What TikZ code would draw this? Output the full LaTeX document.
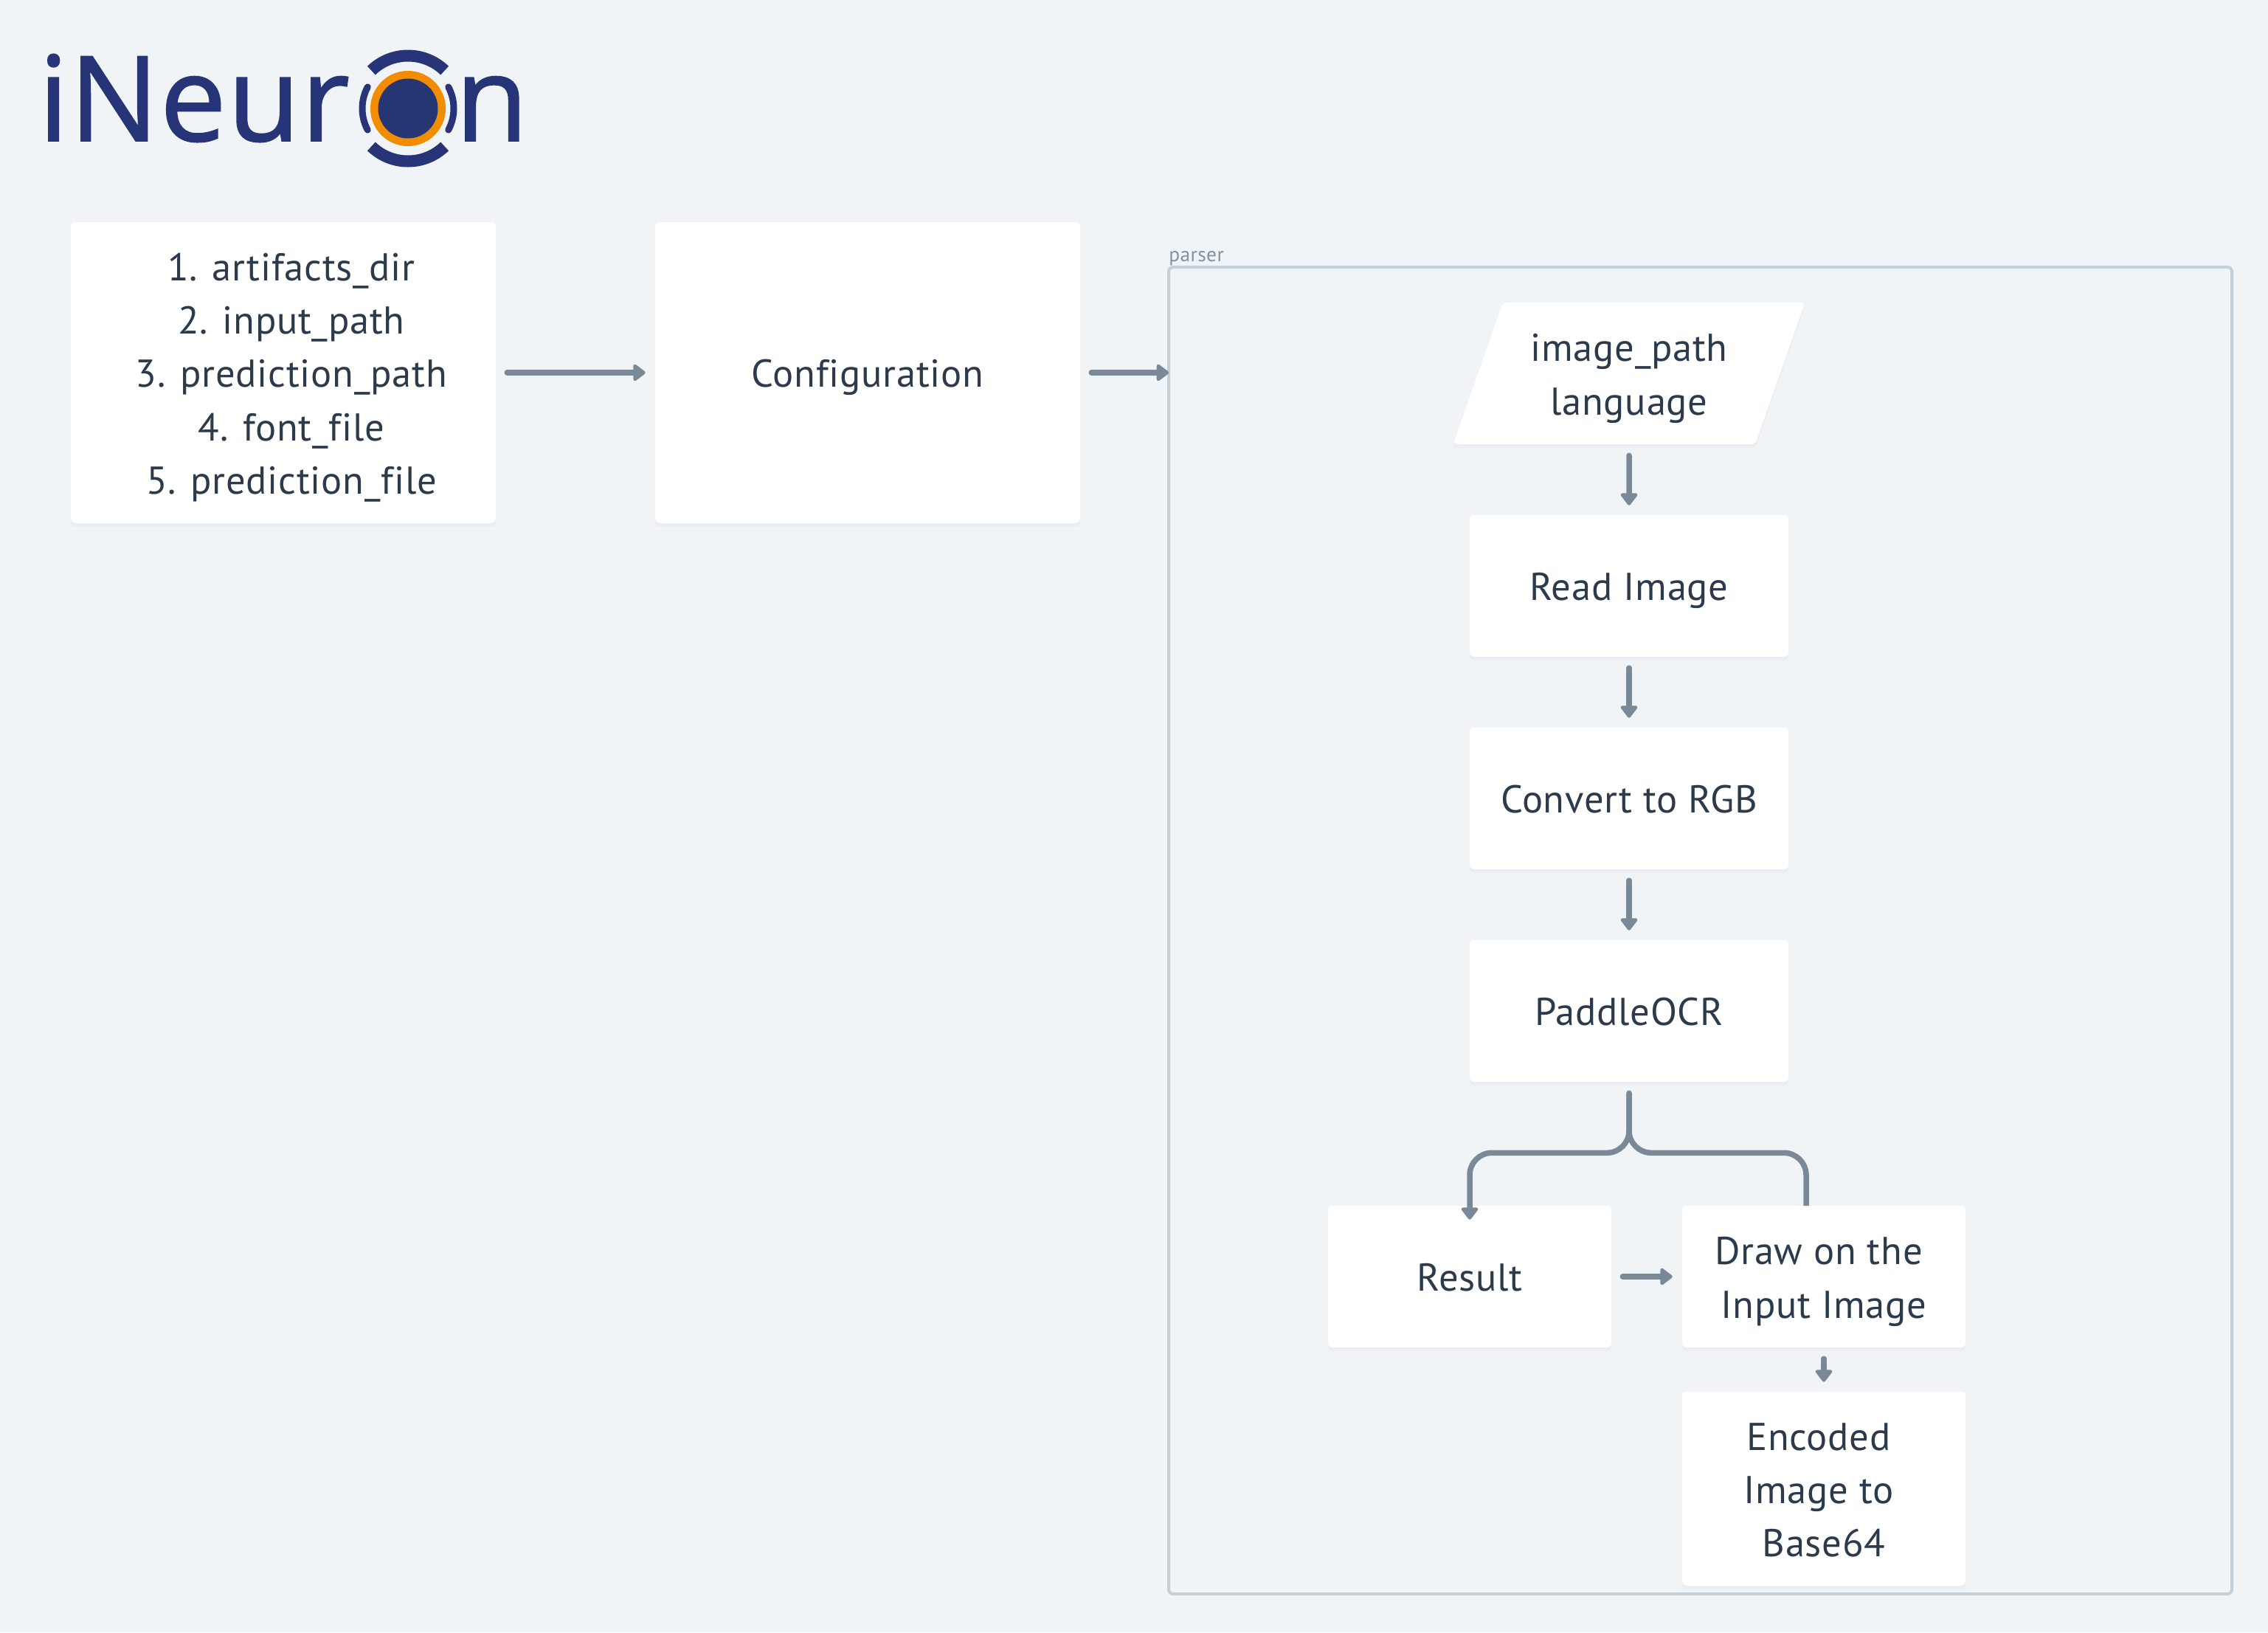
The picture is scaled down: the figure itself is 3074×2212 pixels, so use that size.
\documentclass[tikz,border=0pt]{standalone}
\usepackage{fontspec}
\setmainfont{PT Sans}[LetterSpace=1.5,Ligatures=NoCommon]
\newfontfamily\logofont{Open Sans}[LetterSpace=1,FakeBold=1.2,Ligatures=NoCommon]
\usetikzlibrary{arrows.meta,shapes.geometric,shadows}
\definecolor{pagebg}{HTML}{F0F4F7}
\definecolor{inkcol}{HTML}{2B3B4B}
\definecolor{linkcol}{HTML}{7A8998}
\definecolor{framecol}{HTML}{C3D0DA}
\definecolor{framelab}{HTML}{83929F}
\definecolor{shadowcol}{HTML}{EAEEF2}
\definecolor{logoblue}{HTML}{283478}
\definecolor{logocore}{HTML}{253672}
\definecolor{logoorange}{HTML}{F28C00}
\newlength{\pxu}\setlength{\pxu}{0.25mm}
\newcommand{\lnstrut}{\rule[-11.6pt]{0pt}{51.5pt}}
\newcommand{\lead}{\hspace*{15.6pt}}
\newcommand{\trail}{\rule{10pt}{0pt}}
\tikzset{
  flowbox/.style={fill=white,rounded corners=6\pxu,inner sep=0pt,align=center,text=inkcol,
    font=\fontsize{37.4pt}{51.5pt}\selectfont,
    general shadow={fill=shadowcol,shadow yshift=-5\pxu,shadow xshift=0pt}},
  linkarrow/.style={draw=linkcol,line width=7.5\pxu,line cap=round,rounded corners=30\pxu,
    -{Triangle[length=12.8pt,width=18.5pt,round]},shorten <=15\pxu,shorten >=13\pxu},
  linkplain/.style={draw=linkcol,line width=7.5\pxu,line cap=butt,rounded corners=30\pxu},
  logoarc/.style={draw=logoblue,line cap=butt},
}
\begin{document}
\begin{tikzpicture}[x=1\pxu,y=-1\pxu]
\useasboundingbox (0,0) rectangle (3074,2212);
\fill[pagebg] (0,0) rectangle (3074,2212);

% logo
\node[anchor=base west,inner sep=0pt,text=logoblue,font=\logofont\fontsize{114pt}{114pt}\selectfont] (logotext) at (52,191) {iNeur};
\node[anchor=base west,inner sep=0pt,text=logoblue,font=\logofont\fontsize{114pt}{114pt}\selectfont] (logoend) at (617,191) {n};
\fill[logoorange] (553,147) circle (51);
\fill[logocore] (553,147) circle (40.5);
\draw[logoarc,line width=16\pxu] ([shift={(-46:71.5)}]553,147) arc[start angle=-46,end angle=-134,radius=71.5];
\draw[logoarc,line width=16\pxu] ([shift={(46:71.5)}]553,147) arc[start angle=46,end angle=134,radius=71.5];
\draw[logoarc,line width=9\pxu,line cap=round] ([shift={(-28:62)}]553,147) arc[start angle=-28,end angle=28,radius=62];
\draw[logoarc,line width=9\pxu,line cap=round] ([shift={(152:62)}]553,147) arc[start angle=152,end angle=208,radius=62];

% frame
\node[draw=framecol,line width=4\pxu,rounded corners=6\pxu,minimum width=1441\pxu,minimum height=1798\pxu,inner sep=0pt] (parser) at (2304.5,1261) {};
\node[anchor=base west,inner sep=0pt,text=framelab,font=\fontsize{19.5pt}{22pt}\selectfont] (parserlab) at (1584,354) {parser};

% boxes
\node[flowbox,minimum width=576\pxu,minimum height=408\pxu] (params) at (384,505) {\lnstrut\lead 1. artifacts\_dir\\\lead 2. input\_path\\\lead 3. prediction\_path\\\lead 4. font\_file\\\lnstrut\lead 5. prediction\_file};
\node[flowbox,minimum width=576\pxu,minimum height=408\pxu] (config) at (1176,505) {\lnstrut Configuration};
\node[flowbox,shape=trapezium,trapezium left angle=70,trapezium right angle=110,trapezium stretches=true,minimum width=477\pxu,minimum height=192\pxu] (input) at (2208,506) {\lnstrut image\_path\\\lnstrut language};
\node[flowbox,minimum width=432\pxu,minimum height=192\pxu] (read) at (2208,794) {\lnstrut Read Image};
\node[flowbox,minimum width=432\pxu,minimum height=192\pxu] (rgb) at (2208,1082) {\lnstrut Convert to RGB};
\node[flowbox,minimum width=432\pxu,minimum height=192\pxu] (ocr) at (2208,1370) {\lnstrut PaddleOCR};
\node[flowbox,minimum width=384\pxu,minimum height=192\pxu] (result) at (1992,1730) {\lnstrut Result};
\node[flowbox,minimum width=384\pxu,minimum height=192\pxu] (drawimg) at (2472,1730) {\lnstrut Draw on the\trail\\\lnstrut Input Image};
\node[flowbox,minimum width=384\pxu,minimum height=263\pxu] (encoded) at (2472,2017.5) {\lnstrut Encoded\trail\\Image to\trail\\\lnstrut Base64};

% connectors
\coordinate (drawtap) at (2448,1634);
\draw[linkarrow] (params.east) -- (config.west);
\draw[linkarrow,shorten >=-2\pxu] (config.east) -- (config.east -| parser.west);
\draw[linkarrow] (input.south) -- (read.north);
\draw[linkarrow] (read.south) -- (rgb.north);
\draw[linkarrow] (rgb.south) -- (ocr.north);
\draw[linkarrow,shorten >=-19\pxu] (ocr.south) -- ++(0,96) -| (result.north);
\draw[linkplain,shorten <=15\pxu] (ocr.south) -- ++(0,96) -| (drawtap);
\draw[linkarrow] (result.east) -- (drawimg.west);
\draw[linkarrow] (drawimg.south) -- (encoded.north);
\end{tikzpicture}
\end{document}
